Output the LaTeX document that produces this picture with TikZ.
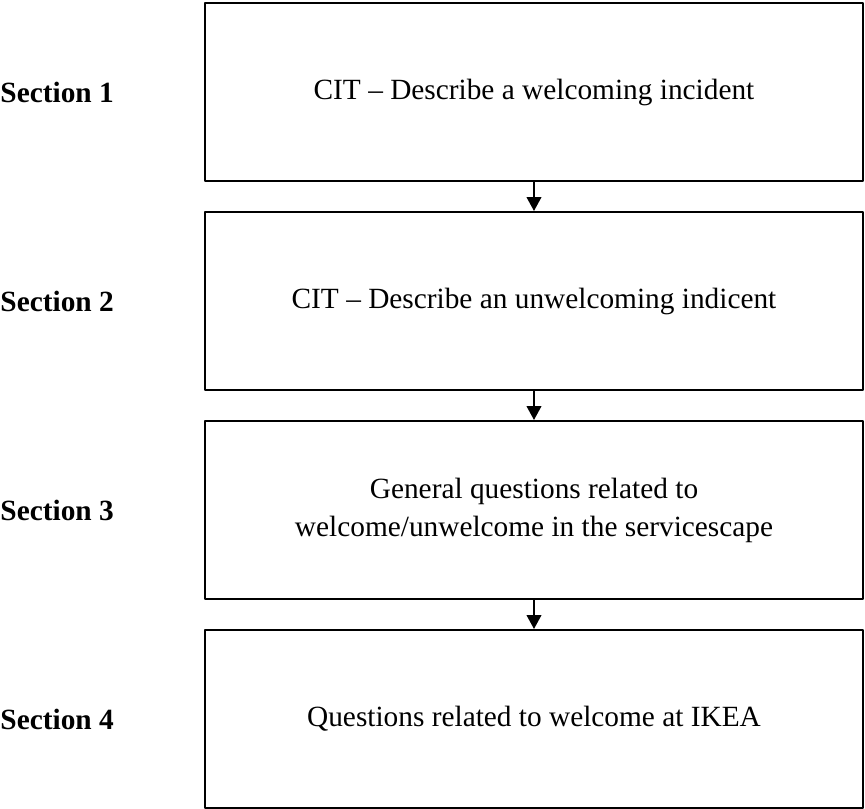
\documentclass[tikz,border=0pt]{standalone}
\usepackage{fontspec}
\setmainfont{Liberation Serif}
\usetikzlibrary{positioning,arrows.meta}
\begin{document}
\begin{tikzpicture}[line cap=round,line join=round,>={Triangle[length=10.5pt,width=11pt]},x=0.75pt,y=-0.75pt,
	secbox/.style={draw,line width=1.5pt,minimum width=493.5pt,minimum height=133.5pt,align=center,font=\fontsize{22}{28.5}\selectfont,inner sep=0pt},
	seclabel/.style={font=\bfseries\fontsize{22}{26}\selectfont,inner sep=0pt}]
		\useasboundingbox (0,0) rectangle (865,808);
		\node[secbox] (s1) at (534,92) {CIT -- Describe a welcoming incident};
		\node[secbox,below=21.75pt of s1] (s2) {CIT -- Describe an unwelcoming indicent};
		\node[secbox,below=21.75pt of s2] (s3) {General questions related to\\welcome/unwelcome in the servicescape};
		\node[secbox,below=21.75pt of s3] (s4) {Questions related to welcome at IKEA};
		\node[seclabel,left=67.5pt of s1] (l1) {Section 1};
		\node[seclabel,left=67.5pt of s2] (l2) {Section 2};
		\node[seclabel,left=67.5pt of s3] (l3) {Section 3};
		\node[seclabel,left=67.5pt of s4] (l4) {Section 4};
		\draw[->,line width=1.5pt] (s1) -- (s2);
		\draw[->,line width=1.5pt] (s2) -- (s3);
		\draw[->,line width=1.5pt] (s3) -- (s4);
\end{tikzpicture}
\end{document}
